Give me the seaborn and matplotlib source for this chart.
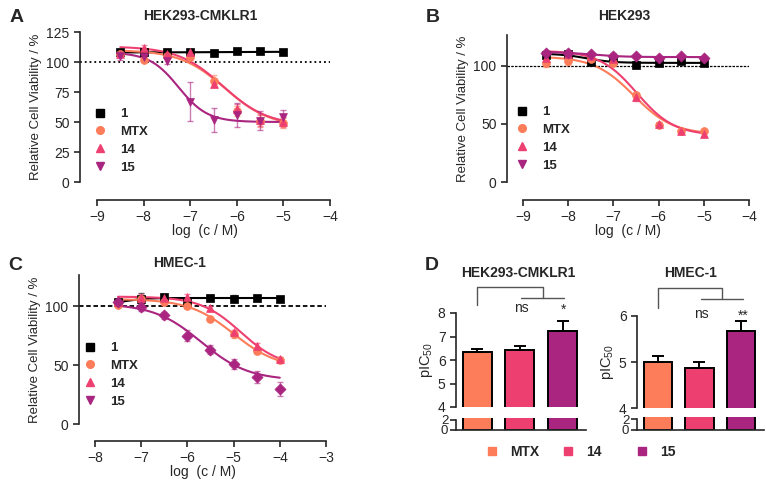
import numpy as np
import pandas as pd
import seaborn as sns
import matplotlib
matplotlib.use('Agg')
import matplotlib.pyplot as plt
from matplotlib.lines import Line2D

# --- data ---
conc_AB = [-8.5, -8, -7.5, -7, -6.5, -6, -5.5, -5]
conc_C = [-7.5, -7, -6.5, -6, -5.5, -5, -4.5, -4]

A_1 = [108, 108, 108, 108, 107.5, 109, 109, 108]
A_1_err = [2, 1, 1, 1, 1, 1, 1, 1]
A_MTX = [107, 102, 105, 104, 84, 59, 51, 49]
A_MTX_err = [1, 2, 2, 2, 5, 4, 5, 4]
A_14 = [107, 112, 107, 108, 82, 61, 52, 50]
A_14_err = [2, 2, 2, 2, 3, 4, 5, 4]
A_15 = [105, 104, 101, 67, 52, 56, 51, 54]
A_15_err = [3, 3, 3, 16, 10, 10, 8, 6]

B_1 = [109, 110, 103, 105, 101, 102, 104, 102]
B_1_err = [2, 3, 1, 2, 3, 1, 1, 1]
B_MTX = [102, 104, 106, 102, 75, 49, 44, 44]
B_MTX_err = [3, 3, 2, 2, 2, 2, 1, 1]
B_14 = [107, 110, 108, 106, 73, 50, 44, 41]
B_14_err = [2, 2, 1, 2, 3, 2, 1, 2]
B_15 = [111, 111, 110, 108, 108, 107, 108, 107]
B_15_err = [2, 2, 1, 3, 1, 1, 1, 1]

C_1 = [103, 106, 108, 103, 107, 106, 107, 106]
C_1_err = [2, 5, 2, 2, 2, 3, 1, 1]
C_MTX = [101, 106, 103, 100, 89, 76, 62, 54]
C_MTX_err = [2, 2, 2, 2, 2, 3, 3, 2]
C_14 = [103, 107, 107, 108, 98, 78, 66, 55]
C_14_err = [2, 3, 2, 2, 2, 2, 3, 2]
C_15 = [103, 99, 92, 75, 63, 51, 40, 30]
C_15_err = [3, 3, 3, 5, 4, 4, 5, 6]

# fit parameters: [plateau at low conc, plateau at high conc, logIC50, hill]
fitA_1 = [108, 108.5, -6.5, 1.0]
fitA_MTX = [110, 46, -6.25, 0.9]
fitA_14 = [113, 47, -6.3, 0.9]
fitA_15 = [108, 50, -7.25, 1.4]
fitB_1 = [110.5, 102.5, -7.6, 1.5]
fitB_MTX = [108, 41, -6.55, 1.0]
fitB_14 = [113, 40, -6.48, 1.05]
fitB_15 = [112, 107.5, -7.5, 1.2]
fitC_1 = [102, 106.8, -7.3, 2.0]
fitC_MTX = [106, 47, -5.0, 0.9]
fitC_14 = [108, 48, -4.85, 1.0]
fitC_15 = [102, 37, -5.7, 0.85]

groups = ['MTX', '14', '15']
D_hek = [6.33, 6.43, 7.22]
D_hek_err = [0.12, 0.16, 0.43]
D_hmec = [5.0, 4.88, 5.67]
D_hmec_err = [0.12, 0.13, 0.21]

labels = ['1', 'MTX', '14', '15']
colors = ['black', '#FD7C59', '#EE4070', '#A92580']

# --- style ---
sns.set_style('ticks')
plt.rcParams['font.family'] = ['Liberation Sans', 'DejaVu Sans']
plt.rcParams['mathtext.default'] = 'regular'
plt.rcParams['axes.linewidth'] = 1.2
plt.rcParams['xtick.major.width'] = 1.2
plt.rcParams['ytick.major.width'] = 1.2
plt.rcParams['xtick.major.size'] = 4
plt.rcParams['ytick.major.size'] = 4
plt.rcParams['xtick.labelsize'] = 10
plt.rcParams['ytick.labelsize'] = 10

W, H = 766, 487
fig = plt.figure(figsize=(W / 100, H / 100), dpi=100)


def add_ax(left, top, right, bottom):
    return fig.add_axes([left / W, 1 - bottom / H, (right - left) / W, (bottom - top) / H])


def fx(x):
    return x / W


def fy(y):
    return 1 - y / H


def logistic(x, p):
    low, high, logic, hill = p
    return high + (low - high) / (1 + 10 ** ((x - logic) * hill))


def curve_panel(ax, conc, ys, errs, fits, mk15, xlim, ylim, yticks, xticks, drop, ls):
    markers = ['s', 'o', '^', mk15]
    xs = np.linspace(conc[0], conc[-1], 200)
    for y, e, p, c, m in zip(ys, errs, fits, colors, markers):
        sns.lineplot(x=xs, y=logistic(xs, p), color=c, lw=1.5, ax=ax, zorder=2)
        ax.errorbar(conc, y, yerr=e, fmt='none', ecolor=c, alpha=0.6,
                    elinewidth=1, capsize=2.5, zorder=3)
        sns.scatterplot(x=conc, y=y, marker=m, color=c, s=32, edgecolor=c,
                        linewidth=0.5, ax=ax, zorder=4)
    ax.axhline(100, color='black', lw=1.3, ls=ls, zorder=1)
    ax.set_xlim(*xlim)
    ax.set_ylim(*ylim)
    ax.set_yticks(yticks)
    ax.set_xticks(xticks)
    sns.despine(ax=ax)
    ax.spines['bottom'].set_bounds(xticks[0], xticks[-1])
    ax.spines['bottom'].set_position(('outward', drop * 0.72))
    ax.set_xlabel('log  (c / M)', fontsize=10, labelpad=0)
    ax.set_ylabel('Relative Cell Viability / %', fontsize=9.5, labelpad=3)


def curve_legend(ax, x, y):
    handles = [Line2D([], [], ls='none', marker=m, color=c, markersize=5.5)
               for m, c in zip(['s', 'o', '^', 'v'], colors)]
    ax.legend(handles, labels, loc='upper left', bbox_to_anchor=(fx(x), fy(y)),
              bbox_transform=fig.transFigure, frameon=False,
              prop={'weight': 'bold', 'size': 9.5}, handlelength=1,
              handletextpad=1.0, labelspacing=0.42, borderpad=0, borderaxespad=0)


# Panel A
axA = add_ax(80, 32, 330, 182)
curve_panel(axA, conc_AB, [A_1, A_MTX, A_14, A_15],
            [A_1_err, A_MTX_err, A_14_err, A_15_err],
            [fitA_1, fitA_MTX, fitA_14, fitA_15], 'v',
            (-9.365, -4), (0, 125), [0, 25, 50, 75, 100, 125], [-9, -8, -7, -6, -5, -4], 18, ':')
axA.spines['left'].set_bounds(0, 125)
curve_legend(axA, 93.5, 108)

# Panel B
axB = add_ax(507, 35, 749, 182)
curve_panel(axB, conc_AB, [B_1, B_MTX, B_14, B_15],
            [B_1_err, B_MTX_err, B_14_err, B_15_err],
            [fitB_1, fitB_MTX, fitB_14, fitB_15], 'D',
            (-9.354, -4), (0, 126.5), [0, 50, 100], [-9, -8, -7, -6, -5, -4], 18, (0, (2, 1)))
axB.lines[-1].set_linewidth(0.9)
curve_legend(axB, 515.5, 106)

# Panel C
axC = add_ax(79, 275, 326, 424)
curve_panel(axC, conc_C, [C_1, C_MTX, C_14, C_15],
            [C_1_err, C_MTX_err, C_14_err, C_15_err],
            [fitC_1, fitC_MTX, fitC_14, fitC_15], 'D',
            (-8.346, -3), (0, 126.3), [0, 50, 100], [-8, -7, -6, -5, -4, -3], 17, (0, (2.5, 1.5)))
curve_legend(axC, 83.5, 342)


# Panel D: broken-axis bar charts
def bar_pair(left, right, up_top, up_bot, low_top, low_bot, vals, errs, ylim_up, yticks_up):
    up = add_ax(left, up_top, right, up_bot)
    low = add_ax(left, low_top, right, low_bot)
    df = pd.DataFrame({'group': groups, 'value': vals})
    for ax in (up, low):
        sns.barplot(data=df, x='group', y='value', hue='group', palette=colors[1:],
                    saturation=1, width=0.68, edgecolor='black', linewidth=1.4,
                    legend=False, ax=ax)
        ax.set_xlim(-0.5, 2.55)
        ax.set_xticks([])
        ax.set_xlabel('')
        ax.set_ylabel('')
        sns.despine(ax=ax)
    up.errorbar([0, 1, 2], vals, yerr=[[0, 0, 0], errs], fmt='none', ecolor='black',
                elinewidth=1.4, capsize=4.5, capthick=1.4, zorder=5)
    up.set_ylim(*ylim_up)
    up.set_yticks(yticks_up)
    up.spines['bottom'].set_visible(False)
    low.set_ylim(0, 2.4)
    low.set_yticks([0, 2])
    low.tick_params(axis='y', labelsize=9.5, pad=1.5)
    low.spines['left'].set_bounds(0, 2)
    return up, low


upL, lowL = bar_pair(456, 586, 313, 407, 418, 430, D_hek, D_hek_err, (4, 8), [4, 5, 6, 7, 8])
upL.set_ylabel('pIC$_{50}$', fontsize=10.5, labelpad=2)
upR, lowR = bar_pair(637, 764, 315.7, 408.3, 417, 430, D_hmec, D_hmec_err, (4, 6), [4, 5, 6])
upR.set_ylabel('pIC$_{50}$', fontsize=10.5, labelpad=2)

# significance brackets
br = dict(color='#555555', lw=1, clip_on=False)
upL.plot([0, 0, 1.55, 1.55], [8.34, 9.12, 9.12, 8.65], **br)
upL.plot([1.03, 2.03], [8.65, 8.65], **br)
upL.text(1.03, 8.22, 'ns', ha='center', va='center', fontsize=10)
upL.text(2.03, 8.12, '*', ha='center', va='center', fontsize=10)
upR.plot([0, 0, 1.54, 1.54], [6.17, 6.6, 6.6, 6.36], **br)
upR.plot([1.04, 2.05], [6.36, 6.36], **br)
upR.text(1.04, 6.04, 'ns', ha='center', va='center', fontsize=10, clip_on=False)
upR.text(2.05, 6.0, '**', ha='center', va='center', fontsize=10, clip_on=False)

# D legend
for name, c, mx in zip(groups, colors[1:], [492, 568, 642]):
    h = Line2D([], [], ls='none', marker='s', color=c, markersize=5.5)
    fig.legend([h], [name], loc='center left', bbox_to_anchor=(fx(mx - 6.6), fy(452)),
               frameon=False, prop={'weight': 'bold', 'size': 10}, handlelength=1,
               handletextpad=0.8, borderpad=0, borderaxespad=0)

# titles and panel letters
for txt, x, y in [('HEK293-CMKLR1', 200, 16), ('HEK293', 624, 16), ('HMEC-1', 180, 263),
                  ('HEK293-CMKLR1', 518, 273), ('HMEC-1', 691, 273)]:
    fig.text(fx(x), fy(y), txt, ha='center', va='center', fontsize=10, fontweight='bold')
for txt, x, y in [('A', 17, 17), ('B', 433, 17), ('C', 15, 265), ('D', 432, 265)]:
    fig.text(fx(x), fy(y), txt, ha='center', va='center', fontsize=14, fontweight='bold')

fig.savefig('out.png', dpi=100)
